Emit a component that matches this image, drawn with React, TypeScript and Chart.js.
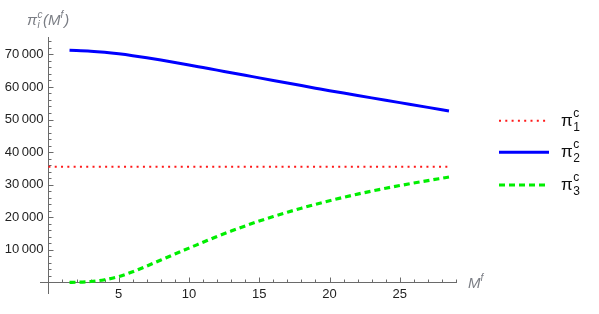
import React, { useEffect, useRef } from "react";
import { Chart, registerables } from "chart.js";

Chart.register(...registerables);

const blueX = [1.5, 3, 4, 5, 6, 7, 8, 9, 10, 11, 12, 13, 14, 15, 17, 19, 20, 21, 23, 25, 27, 28.5];
const blueY = [71250, 70965, 70625, 70165, 69605, 68965, 68260, 67515, 66740, 65950, 65160, 64370, 63580, 62790, 61210, 59630, 58840, 58110, 56650, 55190, 53730, 52640];

const greenX = [1.5, 2, 3, 4, 5, 6, 7, 8, 9, 10, 11, 12, 13, 14, 15, 16, 17, 18, 19, 20, 21, 22, 23, 24, 25, 26, 27, 28, 28.5];
const greenY = [0, 30, 250, 800, 1750, 3250, 5000, 6850, 8700, 10500, 12300, 14100, 15750, 17330, 18820, 20205, 21520, 22765, 23940, 25050, 26100, 27090, 28020, 28895, 29720, 30500, 31245, 31970, 32330];

const redX = [0, 28.5];
const redY = [35500, 35500];

const xMajorTicks = [5, 10, 15, 20, 25];
const yMajorTicks = [10000, 20000, 30000, 40000, 50000, 60000, 70000];
const yTickLabels = ["10\u2009000", "20\u2009000", "30\u2009000", "40\u2009000", "50\u2009000", "60\u2009000", "70\u2009000"];
const xMinorStep = 1;
const yMinorStep = 2000;

const legendSubs = ["1", "2", "3"];

const FONT = "'Liberation Sans', Arial, sans-serif";

function toPts(xs: number[], ys: number[]) {
  return xs.map((x, i) => ({ x, y: ys[i] }));
}

export default function App() {
  const ref = useRef<HTMLCanvasElement | null>(null);

  useEffect(() => {
    if (!ref.current) return;
    const axesPlugin = {
      id: "mmaAxes",
      beforeDatasetsDraw(chart: any) {
        const ctx = chart.ctx as CanvasRenderingContext2D;
        const xs = chart.scales.x;
        const ys = chart.scales.y;
        const ca = chart.chartArea;
        const x0 = Math.round(xs.getPixelForValue(0)) + 0.5;
        const y0 = Math.round(ys.getPixelForValue(0)) + 0.5;
        ctx.save();
        ctx.strokeStyle = "#6a6a6a";
        ctx.lineWidth = 1;
        ctx.beginPath();
        ctx.moveTo(ca.left, y0);
        ctx.lineTo(ca.right, y0);
        ctx.moveTo(x0, ca.top);
        ctx.lineTo(x0, ca.bottom);
        for (let v = xMinorStep; v <= xs.max; v += xMinorStep) {
          const px = Math.round(xs.getPixelForValue(v)) + 0.5;
          const major = xMajorTicks.includes(v);
          ctx.moveTo(px, y0);
          ctx.lineTo(px, y0 - (major ? 5 : 3));
        }
        for (let v = yMinorStep; v <= ys.max; v += yMinorStep) {
          const py = Math.round(ys.getPixelForValue(v)) + 0.5;
          const major = yMajorTicks.includes(v);
          ctx.moveTo(x0, py);
          ctx.lineTo(x0 + (major ? 5 : 3), py);
        }
        ctx.stroke();

        ctx.fillStyle = "#222";
        ctx.font = `13px ${FONT}`;
        ctx.textAlign = "center";
        ctx.textBaseline = "middle";
        xMajorTicks.forEach((v) => {
          ctx.fillText(String(v), xs.getPixelForValue(v), y0 + 11.5);
        });
        ctx.textAlign = "right";
        yMajorTicks.forEach((v, i) => {
          ctx.fillText(yTickLabels[i], x0 - 5, ys.getPixelForValue(v));
        });
        ctx.restore();
      },
      afterDraw(chart: any) {
        const ctx = chart.ctx as CanvasRenderingContext2D;
        const xs = chart.scales.x;
        const ys = chart.scales.y;
        const y0 = ys.getPixelForValue(0);
        ctx.save();
        ctx.textAlign = "left";
        ctx.textBaseline = "alphabetic";
        ctx.fillStyle = "#7a7d84";
        let x = 27;
        const base = 25;
        ctx.font = `italic 15px ${FONT}`;
        ctx.fillText("π", x, base);
        x += ctx.measureText("π").width;
        ctx.font = `italic 10px ${FONT}`;
        ctx.fillText("c", x + 0.5, base - 7);
        ctx.fillText("i", x + 0.5, base + 3);
        x += ctx.measureText("c").width + 1;
        ctx.font = `italic 15px ${FONT}`;
        ctx.fillText("(", x, base);
        x += ctx.measureText("(").width;
        ctx.fillText("M", x, base);
        x += ctx.measureText("M").width;
        ctx.font = `italic 10px ${FONT}`;
        ctx.fillText("f", x, base - 7);
        x += ctx.measureText("f").width + 1;
        ctx.font = `italic 15px ${FONT}`;
        ctx.fillText(")", x, base);

        const xl = xs.right + 11;
        const xb = y0 + 6;
        ctx.font = `italic 15px ${FONT}`;
        ctx.fillText("M", xl, xb);
        const mw = ctx.measureText("M").width;
        ctx.font = `italic 10px ${FONT}`;
        ctx.fillText("f", xl + mw, xb - 7);

        const lx1 = 499, lx2 = 549;
        const ly = [120.7, 152.3, 185];
        chart.data.datasets.forEach((ds: any, i: number) => {
          ctx.save();
          ctx.strokeStyle = ds.borderColor;
          ctx.lineWidth = ds.borderWidth;
          ctx.setLineDash(ds.borderDash || []);
          ctx.lineCap = "butt";
          ctx.beginPath();
          ctx.moveTo(lx1, ly[i]);
          ctx.lineTo(lx2, ly[i]);
          ctx.stroke();
          ctx.restore();
          ctx.fillStyle = "#111";
          const tx = 561;
          const tb = ly[i] + 5;
          ctx.font = `17px ${FONT}`;
          ctx.fillText("π", tx, tb);
          const pw = ctx.measureText("π").width;
          ctx.font = `12px ${FONT}`;
          ctx.fillText("c", tx + pw + 0.5, tb - 9);
          ctx.fillText(legendSubs[i], tx + pw + 0.5, tb + 5);
        });
        ctx.restore();
      },
    };

    const chart = new Chart(ref.current, {
      type: "line",
      data: {
        datasets: [
          {
            label: "pi1",
            data: toPts(redX, redY),
            borderColor: "#ff1a1a",
            borderWidth: 2,
            borderDash: [2, 4.3],
            pointRadius: 0,
            fill: false,
          },
          {
            label: "pi2",
            data: toPts(blueX, blueY),
            borderColor: "#0000ff",
            borderWidth: 3,
            pointRadius: 0,
            cubicInterpolationMode: "monotone",
            fill: false,
          },
          {
            label: "pi3",
            data: toPts(greenX, greenY),
            borderColor: "#00ee00",
            borderWidth: 3.2,
            borderDash: [6, 4],
            pointRadius: 0,
            cubicInterpolationMode: "monotone",
            fill: false,
          },
        ],
      },
      options: {
        animation: false,
        responsive: false,
        devicePixelRatio: 1,
        layout: { padding: { left: 40, right: 142, top: 37, bottom: 20 } },
        plugins: { legend: { display: false }, tooltip: { enabled: false }, title: { display: false } },
        events: [],
        scales: {
          x: { type: "linear", min: -0.6, max: 29.07, display: false },
          y: { type: "linear", min: -3590, max: 75340, display: false },
        },
      },
      plugins: [axesPlugin],
    } as any);
    return () => chart.destroy();
  }, []);

  return (
    <div style={{ position: "absolute", left: 0, top: 0, width: 599, height: 314, background: "#fff" }}>
      <canvas ref={ref} width={599} height={314} style={{ display: "block", width: 599, height: 314 }} />
    </div>
  );
}
